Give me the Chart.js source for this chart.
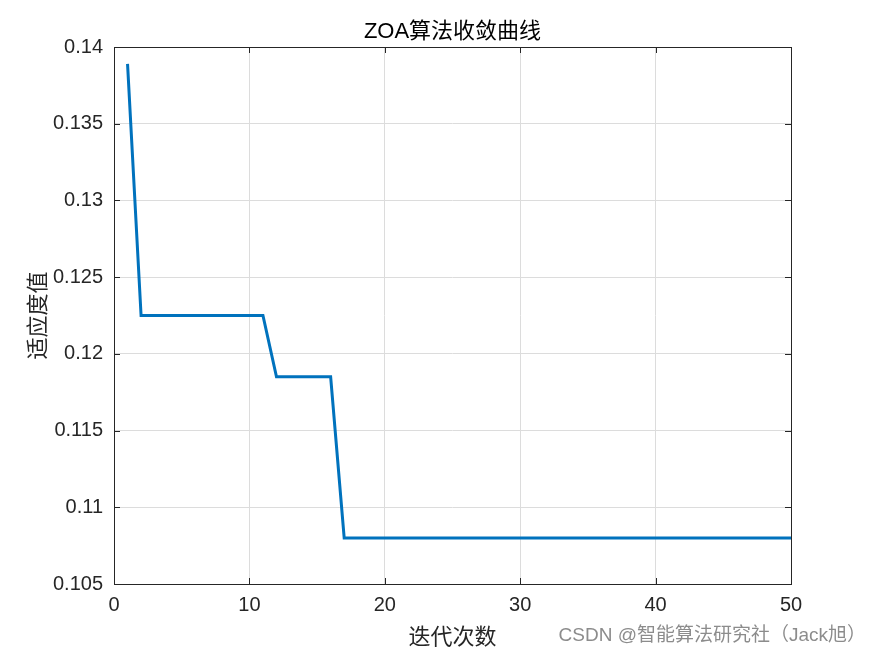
<!DOCTYPE html>
<html>
<head>
<meta charset="utf-8">
<script src="https://cdn.jsdelivr.net/npm/chart.js@4/dist/chart.umd.min.js"></script>
<style>
  html,body{margin:0;padding:0;background:#fff;}
  #wrap{width:875px;height:656px;position:relative;}
</style>
</head>
<body>
<div id="wrap"><canvas id="curve" width="875" height="656"></canvas></div>
<script>
const iterations = [1,2,3,4,5,6,7,8,9,10,11,12,13,14,15,16,17,18,19,20,
  21,22,23,24,25,26,27,28,29,30,31,32,33,34,35,36,37,38,39,40,
  41,42,43,44,45,46,47,48,49,50];
const fitness = [0.1389,0.1225,0.1225,0.1225,0.1225,0.1225,0.1225,0.1225,0.1225,0.1225,
  0.1225,0.1185,0.1185,0.1185,0.1185,0.1185,0.1080,0.1080,0.1080,0.1080,
  0.1080,0.1080,0.1080,0.1080,0.1080,0.1080,0.1080,0.1080,0.1080,0.1080,
  0.1080,0.1080,0.1080,0.1080,0.1080,0.1080,0.1080,0.1080,0.1080,0.1080,
  0.1080,0.1080,0.1080,0.1080,0.1080,0.1080,0.1080,0.1080,0.1080,0.1080];
const xTicks = [0,10,20,30,40,50];
const yTicks = [0.105,0.11,0.115,0.12,0.125,0.13,0.135,0.14];
const chartTitle = "ZOA算法收敛曲线";
const xLabel = "迭代次数";
const yLabel = "适应度值";
const watermark = "CSDN @智能算法研究社（Jack旭）";

const sansFont = "'Liberation Sans', Arial, 'Noto Sans CJK SC', sans-serif";
const cjkFont = "'Noto Sans CJK SC', sans-serif";
const axisColor = '#262626';

// box, inward ticks, title and watermark in matlab style
const matlabFrame = {
  id: 'matlabFrame',
  afterDraw(chart){
    const ctx = chart.ctx, a = chart.chartArea;
    const xs = chart.scales.x, ys = chart.scales.y;
    const tl = 6;
    ctx.save();
    ctx.strokeStyle = axisColor;
    ctx.lineWidth = 1;
    ctx.beginPath();
    xTicks.forEach(v=>{
      const px = Math.round(xs.getPixelForValue(v)) + 0.5;
      ctx.moveTo(px, a.bottom); ctx.lineTo(px, a.bottom - tl);
      ctx.moveTo(px, a.top); ctx.lineTo(px, a.top + tl);
    });
    yTicks.forEach(v=>{
      const py = Math.round(ys.getPixelForValue(v)) + 0.5;
      ctx.moveTo(a.left, py); ctx.lineTo(a.left + tl, py);
      ctx.moveTo(a.right, py); ctx.lineTo(a.right - tl, py);
    });
    ctx.stroke();
    ctx.strokeRect(Math.round(a.left)+0.5, Math.round(a.top)+0.5,
      Math.round(a.right - a.left), Math.round(a.bottom - a.top));

    ctx.fillStyle = '#000';
    ctx.font = "22px " + sansFont;
    ctx.textAlign = 'center';
    ctx.textBaseline = 'middle';
    ctx.fillText(chartTitle, (a.left + a.right)/2, 32);

    ctx.fillStyle = '#8c8c8c';
    ctx.font = "19px " + sansFont;
    ctx.textAlign = 'right';
    ctx.fillText(watermark, 866, 636);
    ctx.restore();
  }
};

new Chart(document.getElementById('curve'), {
  type: 'line',
  data: {
    datasets: [{
      data: iterations.map((it,i)=>({x: it, y: fitness[i]})),
      borderColor: '#0072BD',
      borderWidth: 3,
      pointRadius: 0,
      fill: false,
      tension: 0
    }]
  },
  options: {
    responsive: false,
    animation: false,
    layout: {padding: {left: 0, right: 84, top: 47, bottom: 0}},
    plugins: {legend: {display: false}, tooltip: {enabled: false}, title: {display: false}},
    scales: {
      x: {
        type: 'linear', min: 0, max: 50,
        afterBuildTicks(s){ s.ticks = xTicks.map(v=>({value: v})); },
        afterFit(s){ s.height = 72; },
        grid: {color: '#dcdcdc', drawTicks: false},
        border: {display: false},
        ticks: {color: axisColor, font: {size: 20, family: sansFont}, padding: 9, maxRotation: 0},
        title: {display: true, text: xLabel, color: axisColor,
          font: {size: 22, family: cjkFont}, padding: {top: 0, bottom: 7}}
      },
      y: {
        type: 'linear', min: 0.105, max: 0.14,
        afterBuildTicks(s){ s.ticks = yTicks.map(v=>({value: v})); },
        afterFit(s){ s.width = 114; },
        grid: {color: '#dcdcdc', drawTicks: false},
        border: {display: false},
        ticks: {color: axisColor, font: {size: 20, family: sansFont}, padding: 11,
          callback: v => String(Number(v.toFixed(3)))},
        title: {display: true, text: yLabel, color: axisColor,
          font: {size: 22, family: cjkFont}, padding: {top: 23, bottom: 23}}
      }
    }
  },
  plugins: [matlabFrame]
});
</script>
</body>
</html>
